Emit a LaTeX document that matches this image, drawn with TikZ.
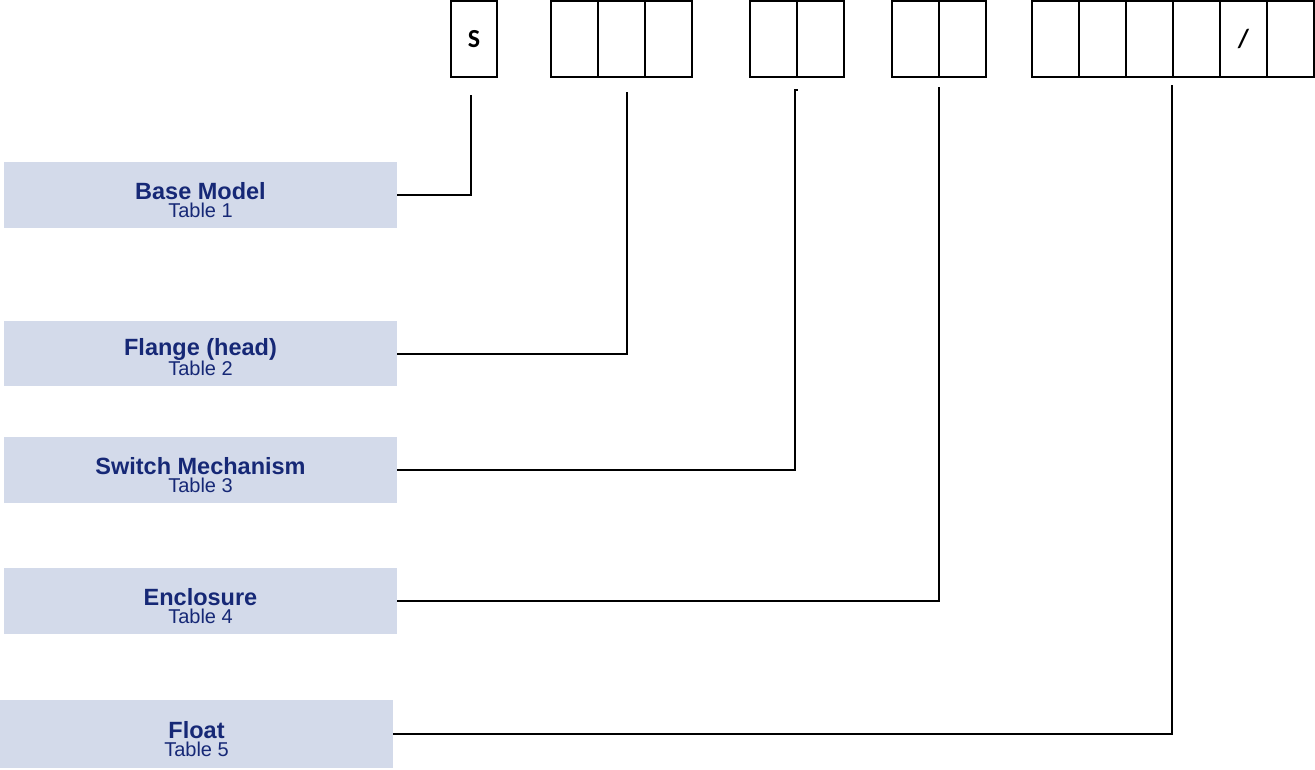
\documentclass[tikz,border=0pt]{standalone}
\usepackage{fontspec}
\setmainfont{Liberation Sans}
\newfontfamily\cellfont{Carlito}
\usepackage{tikz}
\usetikzlibrary{positioning}

\definecolor{boxfill}{RGB}{211,218,234}
\definecolor{boxtext}{RGB}{22,40,118}

\begin{document}
\begin{tikzpicture}[x=1pt, y=-1pt,
  cell/.style={draw, line width=2.5pt, minimum width=47pt, minimum height=76pt, inner sep=0pt, outer sep=0pt, font=\cellfont\bfseries\fontsize{26}{26}\selectfont},
  tablebox/.style={fill=boxfill, text=boxtext, minimum width=393pt, minimum height=66pt, inner sep=0pt, align=center, text height=44pt, text depth=0pt, font=\fontsize{20}{18}\selectfont},
  link/.style={line width=2pt},
  node distance=0pt
]
\useasboundingbox (0,0) rectangle (1315,769);

% code cells
\node[cell, minimum width=46pt] (s) at (474,39) {S};

\node[cell] (f1) at (574.5,39) {};
\node[cell, right=of f1] (f2) {};
\node[cell, right=of f2] (f3) {};

\node[cell] (m1) at (773.5,39) {};
\node[cell, right=of m1] (m2) {};

\node[cell] (e1) at (915.5,39) {};
\node[cell, right=of e1] (e2) {};

\node[cell] (o1) at (1055.5,39) {};
\node[cell, right=of o1] (o2) {};
\node[cell, right=of o2] (o3) {};
\node[cell, right=of o3] (o4) {};
\node[cell, right=of o4] (o5) {/};
\node[cell, right=of o5] (o6) {};

% table boxes
\node[tablebox] (base) at (200.5,195) {{\bfseries\fontsize{23.5}{18}\selectfont Base Model}\\Table 1};
\node[tablebox, minimum height=65pt] (flange) at (200.5,353.5) {{\bfseries\fontsize{23.5}{18}\selectfont Flange (head)}\\Table 2};
\node[tablebox] (switch) at (200.5,470) {{\bfseries\fontsize{23.5}{18}\selectfont Switch Mechanism}\\Table 3};
\node[tablebox] (encl) at (200.5,601) {{\bfseries\fontsize{23.5}{18}\selectfont Enclosure}\\Table 4};
\node[tablebox, minimum height=68pt] (float) at (196.5,734) {{\bfseries\fontsize{23.5}{18}\selectfont Float}\\Table 5};

% free ends under the cells
\coordinate (endbase) at (471,95);
\coordinate (endflange) at (627,92);
\coordinate (endswitch) at (795,90);
\coordinate (endencl) at (939,87);
\coordinate (endfloat) at (1172,85);

\draw[link] (base.east) -| (endbase);
\draw[link] (flange.east) -| (endflange);
\draw[link] (switch.east) -| (endswitch) -- ++(3,0);
\draw[link] (encl.east) -| (endencl);
\draw[link] (float.east) -| (endfloat);
\end{tikzpicture}
\end{document}
